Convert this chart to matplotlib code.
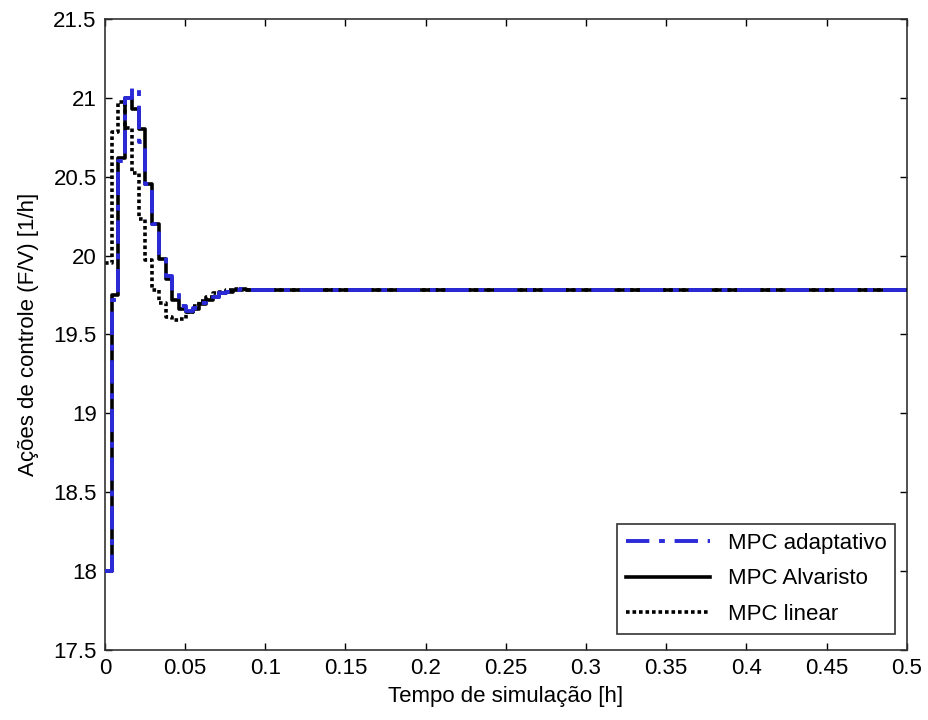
import matplotlib
matplotlib.use("Agg")
import matplotlib.pyplot as plt
import numpy as np

plt.rcParams['font.family'] = ['Liberation Sans', 'DejaVu Sans']

dt = 0.0042
t_end = 0.5

adaptive = [18.0, 19.72, 20.6, 21.0, 21.06, 20.72, 20.45, 20.2, 20.0, 19.87, 19.76,
            19.68, 19.65, 19.67, 19.70, 19.72, 19.74, 19.76, 19.77, 19.78, 19.79, 19.78, 19.78]
alvaristo = [18.0, 19.75, 20.62, 21.0, 20.93, 20.8, 20.45, 20.2, 19.98, 19.85, 19.72,
             19.66, 19.64, 19.66, 19.69, 19.72, 19.74, 19.76, 19.77, 19.78, 19.79, 19.78]
linear = [19.95, 20.78, 20.97, 20.81, 20.52, 20.23, 19.97, 19.78, 19.70, 19.61, 19.59,
          19.60, 19.64, 19.68, 19.71, 19.74, 19.76, 19.77, 19.78, 19.79, 19.78]
final_value = 19.78

labels = ["MPC adaptativo", "MPC Alvaristo", "MPC linear"]
xticks = [0, 0.05, 0.1, 0.15, 0.2, 0.25, 0.3, 0.35, 0.4, 0.45, 0.5]
xticklabels = ["0", "0.05", "0.1", "0.15", "0.2", "0.25", "0.3", "0.35", "0.4", "0.45", "0.5"]
yticks = [17.5, 18, 18.5, 19, 19.5, 20, 20.5, 21, 21.5]
yticklabels = ["17.5", "18", "18.5", "19", "19.5", "20", "20.5", "21", "21.5"]


def series(vals):
    t = list(np.arange(len(vals)) * dt) + [t_end]
    v = list(vals) + [final_value]
    return t, v


fig = plt.figure(figsize=(9.29, 7.2), dpi=100)
ax = fig.add_axes([0.113, 0.097, 0.863, 0.877])

t, v = series(linear)
l3, = ax.plot(t, v, drawstyle='steps-post', color='black', lw=2.6, ls=(0, (1, 0.8)), zorder=2)
t, v = series(alvaristo)
l2, = ax.plot(t, v, drawstyle='steps-post', color='black', lw=2.6, zorder=3)
t, v = series(adaptive)
l1, = ax.plot(t, v, drawstyle='steps-post', color='#2a2ad8', lw=2.8, ls=(0, (6, 2.5, 1.5, 2.5)), zorder=4)

ax.set_xlim(0, 0.5)
ax.set_ylim(17.5, 21.5)
ax.set_xticks(xticks)
ax.set_xticklabels(xticklabels)
ax.set_yticks(yticks)
ax.set_yticklabels(yticklabels)
ax.tick_params(direction='in', top=True, right=True, labelsize=16, length=5, width=1, pad=6)
for s in ax.spines.values():
    s.set_linewidth(1.2)
    s.set_color('#333333')

ax.set_xlabel("Tempo de simulação [h]", fontsize=16, labelpad=5)
ax.set_ylabel("Ações de controle (F/V) [1/h]", fontsize=16, labelpad=10)

leg = ax.legend([l1, l2, l3], labels, loc='lower right', fontsize=16, frameon=True,
                fancybox=False, edgecolor='#333333', framealpha=1, handlelength=3.8,
                borderaxespad=0.4, labelspacing=0.65, bbox_to_anchor=(0.997, 0.012))
leg.get_frame().set_linewidth(1.2)

fig.savefig("out.png", dpi=100)
